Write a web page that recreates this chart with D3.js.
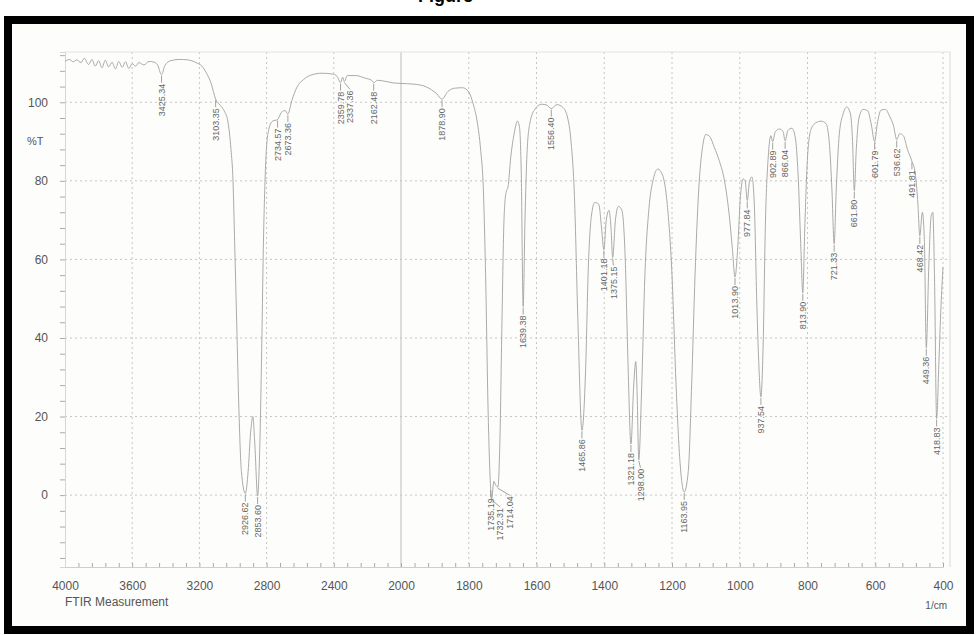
<!DOCTYPE html>
<html>
<head>
<meta charset="utf-8">
<script src="https://cdn.jsdelivr.net/npm/d3@7"></script>
<style>
  html, body { margin: 0; padding: 0; background: #fff; }
  svg { display: block; }
  text { font-family: "Liberation Sans", Arial, sans-serif; }
</style>
</head>
<body>
<svg id="chart" width="978" height="635"></svg>
<script>
// FTIR spectrum: wavenumber (1/cm) and transmittance (%T)
const wavenumber = [
  4000, 3975, 3950, 3930, 3905, 3885, 3860, 3840, 3820, 3800, 3780, 3760, 3740, 3720, 3700, 3680,
  3660, 3640, 3620, 3600, 3580, 3560, 3530,
  3500, 3470, 3450, 3425.34, 3405, 3370, 3320, 3270, 3220, 3185, 3160, 3130, 3103.35, 3075, 3050,
  3030, 3012, 3000, 2990, 2978, 2965, 2950, 2926.62, 2910, 2895, 2882, 2870, 2853.60, 2842, 2830,
  2818, 2806, 2790, 2765, 2734.57, 2712, 2690, 2673.36, 2650, 2620, 2580, 2530, 2470, 2410, 2380,
  2359.78, 2348, 2337.36, 2320, 2270, 2210, 2175, 2162.48, 2140, 2090, 2040, 2000,
  1960, 1925, 1895, 1878.90, 1862, 1840, 1818, 1800, 1787, 1775, 1765, 1757, 1750, 1743,
  1735.19, 1732.31, 1726, 1720, 1714.04, 1708, 1702, 1696, 1690, 1684, 1676, 1666, 1656, 1650,
  1645, 1639.38, 1634, 1628, 1620, 1605, 1585, 1570, 1556.40, 1540, 1522, 1508, 1498, 1488, 1478,
  1465.86, 1455, 1447, 1438, 1428, 1416, 1408, 1401.18, 1394, 1386, 1380, 1375.15, 1367, 1358,
  1348, 1338, 1330, 1321.18, 1313, 1307, 1303, 1298.00, 1290, 1280, 1268, 1255, 1242, 1228, 1214,
  1200, 1188, 1176, 1163.95, 1152, 1142, 1132, 1121, 1110, 1100, 1088, 1075, 1060, 1045, 1032,
  1022, 1013.90, 1006, 998, 990, 984, 977.84, 971, 964, 957, 950, 944, 937.54, 931, 924, 916, 908,
  902.89, 895, 882, 872, 866.04, 858, 846, 836, 828, 820, 813.90, 808, 800, 790, 775, 760, 745,
  735, 728, 721.33, 715, 706, 695, 684, 673, 667, 661.80, 656, 648, 636, 622, 612, 601.79, 594,
  583, 570, 558, 546, 536.62, 528, 517, 505, 491.81, 482, 474, 468.42, 461, 455, 449.36, 442, 435,
  430, 425, 418.83, 412, 406, 400
];
const transmittance = [
  110.4, 110.9, 110.3, 110.8, 110.1, 111.2, 109.6, 110.9, 109.2, 110.6, 108.8, 110.7, 109.0, 110.2, 108.5, 110.4,
  108.9, 110.3, 108.6, 109.8, 109.2, 110.1, 109.5,
  110.4, 110.2, 109.6, 107.0, 109.4, 110.6, 110.9, 110.8, 110.1, 109.2, 107.6, 104.8, 100.8, 99.2, 97.6,
  95.0, 88.0, 80.0, 64.0, 44.0, 22.0, 6.0, 0.4, 6.0, 16.0, 20.0, 13.0, -0.2, 10.0, 35.0,
  66.0, 84.0, 92.5, 95.2, 95.6, 97.4, 97.9, 97.0, 100.4, 103.8, 105.8, 107.0, 107.4, 107.2, 106.6,
  105.0, 106.4, 105.3, 106.8, 106.8, 106.1, 105.6, 105.0, 105.6, 105.3, 104.9, 104.8,
  104.6, 103.9, 102.2, 100.8, 102.7, 103.6, 103.7, 102.6, 99.6, 95.0, 88.0, 78.0, 55.0, 22.0,
  1.5, -1.0, 3.5, 2.5, 2.0, 14.0, 44.0, 70.0, 77.0, 78.5, 86.0, 92.0, 95.2, 93.5,
  82.0, 48.0, 70.0, 87.0, 94.5, 98.2, 99.5, 99.3, 98.4, 99.4, 98.7, 96.0, 90.0, 76.0, 45.0,
  16.5, 32.0, 58.0, 71.0, 74.5, 74.0, 68.0, 62.5, 70.0, 72.5, 68.0, 60.5, 70.0, 73.5,
  72.5, 60.0, 34.0, 13.0, 28.0, 34.0, 26.0, 9.0, 26.0, 56.0, 73.0, 80.5, 83.0, 81.5, 74.0,
  56.0, 28.0, 8.0, 0.8, 6.0, 28.0, 56.0, 78.0, 88.5, 91.8, 91.2, 88.5, 85.0, 80.0, 72.0,
  63.0, 55.5, 63.0, 76.0, 80.5, 80.0, 75.0, 80.0, 81.0, 74.0, 50.0, 34.0, 25.0, 38.0, 70.0, 86.0, 91.5,
  90.0, 92.5, 93.2, 92.5, 90.2, 92.8, 93.4, 91.0, 82.0, 64.0, 51.5, 68.0, 86.0, 93.0, 94.8, 95.2, 94.5,
  89.0, 78.0, 64.0, 78.0, 92.0, 97.0, 98.8, 97.0, 90.0, 77.5, 88.0, 96.0, 98.2, 97.8, 94.5, 90.0, 94.5,
  98.0, 98.2, 96.5, 94.0, 90.5, 92.0, 91.5, 88.0, 85.0, 82.0, 74.0, 66.0, 72.0, 65.0, 37.5, 58.0, 71.0,
  72.0, 55.0, 19.5, 34.0, 48.0, 58.0
];

// Peak picks printed on the trace
const peakLabels = [
  "3425.34", "3103.35", "2926.62", "2853.60", "2734.57", "2673.36", "2359.78", "2337.36",
  "2162.48", "1878.90", "1735.19", "1732.31", "1714.04", "1639.38", "1556.40", "1465.86",
  "1401.18", "1375.15", "1321.18", "1298.00", "1163.95", "1013.90", "977.84", "937.54",
  "902.89", "866.04", "813.90", "721.33", "661.80", "601.79", "536.62", "491.81", "468.42",
  "449.36", "418.83"
];

// Axis ticks
const xTicks = [4000, 3600, 3200, 2800, 2400, 2000, 1800, 1600, 1400, 1200, 1000, 800, 600, 400];
const yTicks = [100, 80, 60, 40, 20, 0];

const svg = d3.select("#chart");

// Page frame
svg.append("rect")
  .attr("x", 8).attr("y", 20).attr("width", 962).attr("height", 610)
  .attr("fill", "#fdfdfb").attr("stroke", "#000").attr("stroke-width", 8);

// Caption above the frame
svg.append("text")
  .attr("x", 418).attr("y", 2)
  .attr("font-family", "'Liberation Serif', 'Times New Roman', serif")
  .attr("font-weight", "bold").attr("font-size", 18)
  .attr("fill", "#000")
  .text("Figure");

// Scales: the wavenumber axis doubles its resolution below 2000 1/cm
const x = d3.scaleLinear().domain([4000, 2000, 400]).range([65, 401, 943]);
const y = d3.scaleLinear().domain([-18.3, 112.8]).range([567, 52]);

const plotLeft = 65, plotRight = 950, plotTop = y.range()[1], plotBottom = y.range()[0];

// Grid
const grid = svg.append("g");
grid.selectAll("line.h").data(yTicks).join("line")
  .attr("x1", plotLeft).attr("x2", plotRight)
  .attr("y1", d => y(d)).attr("y2", d => y(d))
  .attr("stroke", "#c6c6c6").attr("stroke-width", 1).attr("stroke-dasharray", "2,3");
grid.selectAll("line.v").data(xTicks.filter(t => t !== 4000 && t !== 2000)).join("line")
  .attr("x1", d => x(d)).attr("x2", d => x(d))
  .attr("y1", plotTop).attr("y2", plotBottom)
  .attr("stroke", "#c6c6c6").attr("stroke-width", 1).attr("stroke-dasharray", "2,3");
grid.append("line")
  .attr("x1", x(2000)).attr("x2", x(2000)).attr("y1", plotTop).attr("y2", plotBottom)
  .attr("stroke", "#bdbdbd").attr("stroke-width", 1);
// plot border (top and right)
grid.append("line").attr("x1", plotLeft).attr("x2", plotRight).attr("y1", plotTop).attr("y2", plotTop)
  .attr("stroke", "#e2e2e2");
grid.append("line").attr("x1", plotRight).attr("x2", plotRight).attr("y1", plotTop).attr("y2", plotBottom)
  .attr("stroke", "#d8d8d8");

// Bottom axis
const minorX = d3.range(4000, 2000, -80).concat(d3.range(2000, 399, -40));
const xMinor = svg.append("g").attr("transform", `translate(0,${plotBottom})`)
  .call(d3.axisBottom(x).tickValues(minorX).tickSize(-4).tickFormat(""));
xMinor.select(".domain").attr("stroke", "#cfcfcf");
xMinor.selectAll(".tick line").attr("stroke", "#aaa");

const xAxis = svg.append("g").attr("transform", `translate(0,${plotBottom})`)
  .call(d3.axisBottom(x).tickValues(xTicks).tickSize(0).tickPadding(14).tickFormat(d3.format("d")));
xAxis.select(".domain").remove();
xAxis.selectAll("text").attr("font-size", 12).attr("fill", "#555")
  .attr("font-family", "'Liberation Sans', Arial, sans-serif");

// Left axis
const yMinor = svg.append("g").attr("transform", `translate(${plotLeft},0)`)
  .call(d3.axisLeft(y).tickValues(d3.range(-16, 113, 4)).tickSize(5).tickFormat(""));
yMinor.select(".domain").attr("stroke", "#d6d6d6");
yMinor.selectAll(".tick line").attr("stroke", "#aaa");

const yAxis = svg.append("g").attr("transform", `translate(${plotLeft},0)`)
  .call(d3.axisLeft(y).tickValues(yTicks).tickSize(0).tickPadding(17));
yAxis.select(".domain").remove();
yAxis.selectAll("text").attr("font-size", 12).attr("fill", "#555")
  .attr("font-family", "'Liberation Sans', Arial, sans-serif");

svg.append("text").attr("x", 27).attr("y", 145)
  .attr("font-size", 11).attr("fill", "#555").text("%T");
svg.append("text").attr("x", 65).attr("y", 606)
  .attr("font-size", 12).attr("fill", "#555").text("FTIR Measurement");
svg.append("text").attr("x", 947).attr("y", 609).attr("text-anchor", "end")
  .attr("font-size", 10).attr("fill", "#555").text("1/cm");

// Spectrum trace
const points = wavenumber.map((w, i) => [w, transmittance[i]]);
svg.append("path")
  .datum(points)
  .attr("fill", "none")
  .attr("stroke", "#a0a0a0")
  .attr("stroke-width", 0.9)
  .attr("d", d3.line().x(d => x(d[0])).y(d => y(d[1])).curve(d3.curveMonotoneX));

// Peak labels: vertical text below each band minimum, nudged sideways when crowded
const labelSize = 9, labelGap = 9, labelSpacing = 9.5;
const placed = [];
const labelLayer = svg.append("g");
peakLabels.forEach(s => {
  const wn = +s;
  const i = wavenumber.indexOf(wn);
  const x0 = x(wn), y0 = y(transmittance[i]);
  const top = y0 + labelGap;
  const len = s.length * 5 - 2.5;
  let xl = x0;
  let moved = true;
  while (moved) {
    moved = false;
    for (const p of placed) {
      if (Math.abs(xl - p.x) < labelSpacing && top < p.bottom && p.top < top + len) {
        xl = p.x + labelSpacing;
        moved = true;
      }
    }
  }
  placed.push({ x: xl, top: top, bottom: top + len });
  labelLayer.append("line")
    .attr("x1", x0).attr("y1", y0 + 1).attr("x2", xl).attr("y2", top - 1)
    .attr("stroke", "#8a8a8a").attr("stroke-width", 0.8);
  labelLayer.append("text")
    .attr("transform", `translate(${xl},${top}) rotate(-90)`)
    .attr("text-anchor", "end").attr("dy", "0.35em")
    .attr("font-size", labelSize).attr("fill", "#666")
    .text(s);
});
</script>
</body>
</html>
